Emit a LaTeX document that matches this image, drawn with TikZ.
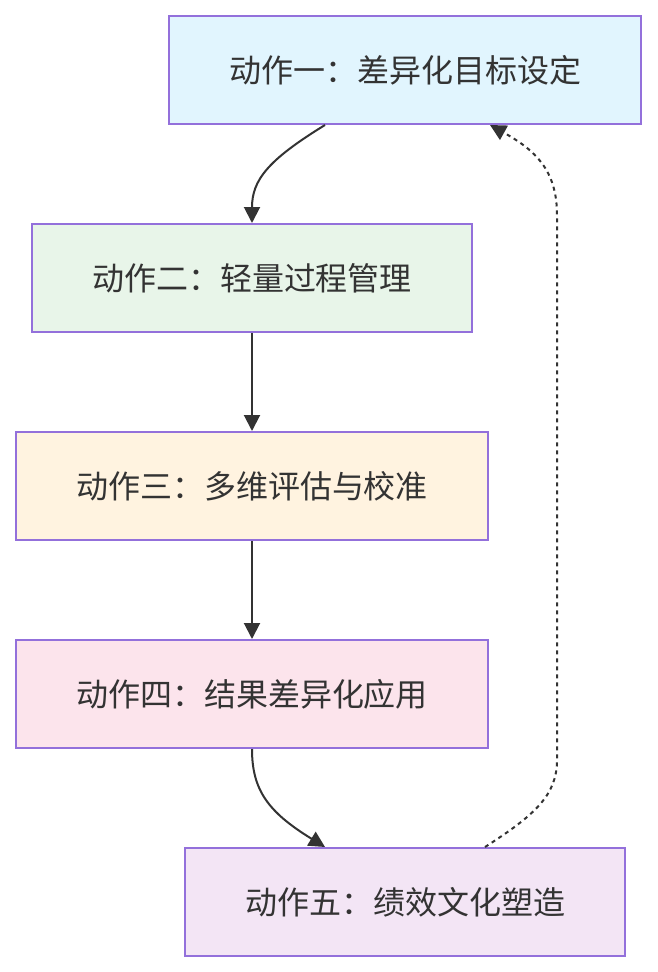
\documentclass[tikz,border=0pt]{standalone}
\usepackage{fontspec}
\usepackage{xcolor}
\usepackage{tikz}
\usetikzlibrary{positioning, arrows.meta}
\newfontfamily\cjk{Noto Sans CJK SC}

\definecolor{edgegray}{HTML}{333333}
\definecolor{boxline}{HTML}{9370DB}
\definecolor{fillblue}{HTML}{E1F5FE}
\definecolor{fillgreen}{HTML}{E8F5E9}
\definecolor{fillorange}{HTML}{FFF3E0}
\definecolor{fillpink}{HTML}{FCE4EC}
\definecolor{fillpurple}{HTML}{F3E5F5}

\begin{document}
\begin{tikzpicture}[
    x=1pt, y=-1pt,
    every node/.style={font=\cjk\fontsize{32pt}{38pt}\selectfont, text=edgegray},
    actbox/.style={draw=boxline, line width=2pt, minimum height=108pt,
                   inner xsep=60pt, inner ysep=0pt},
    arrow/.style={-{Triangle[length=16pt,width=16pt]}, line width=2pt, draw=edgegray},
    back/.style={arrow, dash pattern=on 4pt off 4pt},
]
\useasboundingbox (0,0) rectangle (657,972);

\node[actbox, fill=fillblue]   (act1) at (405,70)  {动作一：差异化目标设定};
\node[actbox, fill=fillgreen]  (act2) at (252,278) {动作二：轻量过程管理};
\node[actbox, fill=fillorange, below=98pt of act2] (act3) {动作三：多维评估与校准};
\node[actbox, fill=fillpink,   below=98pt of act3] (act4) {动作四：结果差异化应用};
\node[actbox, fill=fillpurple] (act5) at (405,902) {动作五：绩效文化塑造};

\coordinate (loopbot) at (557,760);
\coordinate (looptop) at (557,215);

\draw[arrow] ([xshift=-80pt]act1.south) .. controls (268,160) and (252,180) .. (act2.north);
\draw[arrow] (act2) -- (act3);
\draw[arrow] (act3) -- (act4);
\draw[arrow] (act4.south) .. controls (252,790) and (268,812) .. ([xshift=-80pt]act5.north);
\draw[back] ([xshift=80pt]act5.north) .. controls (535,815) and (557,795) .. (loopbot)
    -- (looptop) .. controls (557,170) and (535,150) .. ([xshift=85pt]act1.south);
\end{tikzpicture}
\end{document}
